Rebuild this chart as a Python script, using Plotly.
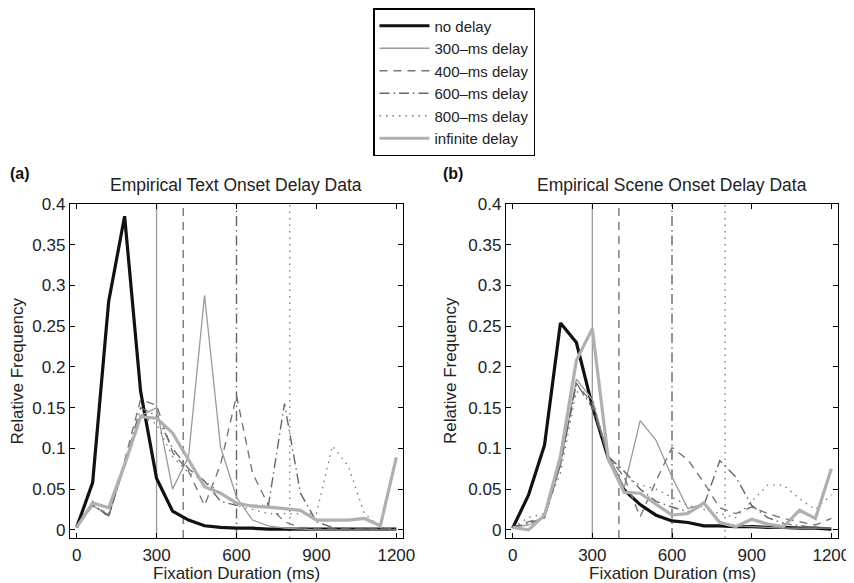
import plotly.graph_objects as go

# ---------------- data ----------------
durations = list(range(0, 1201, 60))
series_names = ["no delay", "300–ms delay", "400–ms delay", "600–ms delay",
                "800–ms delay", "infinite delay"]
delays = [300, 400, 600, 800]
x_ticks = [0, 300, 600, 900, 1200]
y_ticks = [0, 0.05, 0.1, 0.15, 0.2, 0.25, 0.3, 0.35, 0.4]
y_tick_text = ["0", "0.05", "0.1", "0.15", "0.2", "0.25", "0.3", "0.35", "0.4"]

text_no_delay = [0.003, 0.058, 0.280, 0.385, 0.170, 0.063, 0.023, 0.012, 0.005, 0.003, 0.002,
                 0.002, 0.001, 0.001, 0.001, 0.001, 0.001, 0.001, 0.001, 0.001, 0.001]
text_300 = [0.003, 0.030, 0.017, 0.080, 0.140, 0.150, 0.050, 0.090, 0.288, 0.102, 0.040,
            0.012, 0.005, 0.002, 0.001, 0.000, 0.000, 0.000, 0.000, 0.000, 0.000]
text_400 = [0.003, 0.035, 0.015, 0.085, 0.160, 0.153, 0.095, 0.072, 0.030, 0.080, 0.165,
            0.070, 0.030, 0.010, 0.003, 0.001, 0.001, 0.001, 0.001, 0.001, 0.001]
text_600 = [0.003, 0.030, 0.018, 0.080, 0.150, 0.140, 0.100, 0.075, 0.060, 0.035, 0.030,
            0.030, 0.030, 0.155, 0.045, 0.010, 0.003, 0.001, 0.001, 0.001, 0.001]
text_800 = [0.003, 0.030, 0.020, 0.080, 0.140, 0.130, 0.090, 0.070, 0.060, 0.045, 0.030,
            0.025, 0.020, 0.020, 0.020, 0.020, 0.103, 0.078, 0.020, 0.003, 0.001]
text_inf = [0.003, 0.033, 0.027, 0.080, 0.139, 0.137, 0.119, 0.086, 0.053, 0.045, 0.033,
            0.029, 0.028, 0.026, 0.024, 0.012, 0.012, 0.012, 0.014, 0.005, 0.089]

scene_no_delay = [0.002, 0.043, 0.104, 0.254, 0.230, 0.152, 0.088, 0.049, 0.031, 0.018, 0.011,
                  0.009, 0.005, 0.005, 0.004, 0.004, 0.003, 0.003, 0.002, 0.002, 0.001]
scene_300 = [0.003, 0.006, 0.015, 0.080, 0.185, 0.160, 0.090, 0.052, 0.134, 0.110, 0.065,
             0.026, 0.032, 0.010, 0.005, 0.004, 0.003, 0.002, 0.002, 0.002, 0.002]
scene_400 = [0.003, 0.010, 0.015, 0.080, 0.180, 0.155, 0.090, 0.065, 0.016, 0.060, 0.101,
             0.086, 0.058, 0.027, 0.020, 0.028, 0.020, 0.014, 0.010, 0.006, 0.014]
scene_600 = [0.003, 0.008, 0.015, 0.080, 0.180, 0.150, 0.090, 0.072, 0.050, 0.035, 0.028,
             0.022, 0.030, 0.085, 0.065, 0.030, 0.015, 0.008, 0.005, 0.003, 0.002]
scene_800 = [0.003, 0.015, 0.020, 0.070, 0.170, 0.160, 0.090, 0.065, 0.055, 0.050, 0.040,
             0.030, 0.025, 0.020, 0.015, 0.035, 0.055, 0.055, 0.038, 0.025, 0.043]
scene_inf = [0.003, 0.000, 0.018, 0.090, 0.208, 0.247, 0.087, 0.046, 0.045, 0.031, 0.018,
             0.020, 0.033, 0.009, 0.004, 0.013, 0.007, 0.004, 0.024, 0.014, 0.075]

text_series = [text_no_delay, text_300, text_400, text_600, text_800, text_inf]
scene_series = [scene_no_delay, scene_300, scene_400, scene_600, scene_800, scene_inf]

panel_titles = ["Empirical Text Onset Delay Data", "Empirical Scene Onset Delay Data"]
panel_labels = ["<b>(a)</b>", "<b>(b)</b>"]
x_title = "Fixation Duration (ms)"
y_title = "Relative Frequency"

# ---------------- styles ----------------
styles = [
    dict(color="#111111", width=3.2, dash="solid"),
    dict(color="#9a9a9a", width=1.3, dash="solid"),
    dict(color="#777777", width=1.4, dash="8px,6px"),
    dict(color="#666666", width=1.4, dash="10px,4px,1.5px,4px"),
    dict(color="#777777", width=1.3, dash="1.5px,5px"),
    dict(color="#b0b0b0", width=3.2, dash="solid"),
]
delay_styles = [styles[1], styles[2], styles[3], styles[4]]

FONT = "Liberation Sans, Arial, Helvetica, sans-serif"
TXT = "#222222"

# page body has an 8px margin: work in reference pixels and shift
OX, OY = 8, 8
W, H = 846, 575


def px(x):
    return (x - OX) / W


def py(y):
    return 1 - (y - OY) / H


fig = go.Figure()

for panel, data in enumerate([text_series, scene_series]):
    xa = "x" if panel == 0 else "x2"
    ya = "y" if panel == 0 else "y2"
    for i, (name, ys) in enumerate(zip(series_names, data)):
        fig.add_trace(go.Scatter(
            x=durations, y=ys, mode="lines", name=name,
            line=dict(color=styles[i]["color"], width=styles[i]["width"], dash=styles[i]["dash"]),
            xaxis=xa, yaxis=ya, showlegend=(panel == 0),
        ))
    for d, st in zip(delays, delay_styles):
        fig.add_shape(type="line", x0=d, x1=d, y0=0, y1=1,
                      xref=xa, yref=("y domain" if panel == 0 else "y2 domain"),
                      line=dict(color=st["color"], width=st["width"], dash=st["dash"]),
                      layer="below")

dom_left = [px(70), px(403)]
dom_right = [px(506), px(838)]
dom_y = [py(538), py(204)]

axis_common = dict(
    showgrid=False, zeroline=False, showline=True, linecolor="black", linewidth=1.3,
    mirror="ticks", ticks="inside", ticklen=5, tickwidth=1, tickcolor="black",
    tickfont=dict(family=FONT, size=17, color=TXT), automargin=False,
)

fig.update_layout(
    width=W, height=H,
    margin=dict(l=0, r=0, t=0, b=0),
    paper_bgcolor="white", plot_bgcolor="white",
    font=dict(family=FONT, color=TXT),
    xaxis=dict(domain=dom_left, range=[-25, 1225], tickvals=x_ticks, anchor="y",
               ticklabelstandoff=1, **axis_common),
    yaxis=dict(domain=dom_y, range=[-0.01, 0.4], tickvals=y_ticks, ticktext=y_tick_text,
               anchor="x", **axis_common),
    xaxis2=dict(domain=dom_right, range=[-25, 1225], tickvals=x_ticks, anchor="y2",
                ticklabelstandoff=1, **axis_common),
    yaxis2=dict(domain=dom_y, range=[-0.01, 0.4], tickvals=y_ticks, ticktext=y_tick_text,
                anchor="x2", **axis_common),
    legend=dict(x=px(454), y=1, xanchor="center", yanchor="top",
                bordercolor="black", borderwidth=1.5, bgcolor="white",
                font=dict(family=FONT, size=15, color=TXT), itemwidth=50),
    showlegend=True,
)

for dom, title, label, lab_x, ytitle_x in [
    (dom_left, panel_titles[0], panel_labels[0], 8, 16.5),
    (dom_right, panel_titles[1], panel_labels[1], 441, 450),
]:
    cx = (dom[0] + dom[1]) / 2
    fig.add_annotation(text=title, x=cx, y=py(185), xref="paper", yref="paper",
                       xanchor="center", yanchor="middle", showarrow=False,
                       font=dict(family=FONT, size=17.5, color=TXT))
    fig.add_annotation(text=label, x=px(lab_x), y=py(173), xref="paper", yref="paper",
                       xanchor="left", yanchor="middle", showarrow=False,
                       font=dict(family=FONT, size=16, color="#111"))
    fig.add_annotation(text=x_title, x=cx, y=py(573), xref="paper", yref="paper",
                       xanchor="center", yanchor="middle", showarrow=False,
                       font=dict(family=FONT, size=17, color=TXT))
    fig.add_annotation(text=y_title, x=px(ytitle_x), y=(dom_y[0] + dom_y[1]) / 2,
                       xref="paper", yref="paper", textangle=-90,
                       xanchor="center", yanchor="middle", showarrow=False,
                       font=dict(family=FONT, size=17, color=TXT))

fig.write_html("out.html")
